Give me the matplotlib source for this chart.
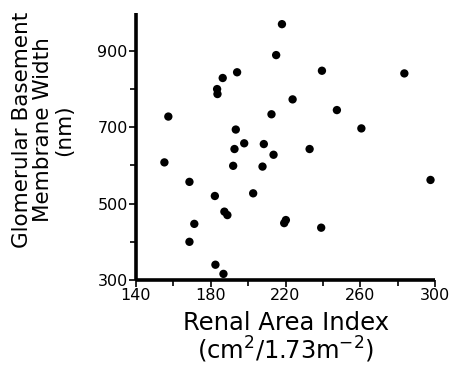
import matplotlib
matplotlib.use("Agg")
import matplotlib.pyplot as plt

# Data (Renal Area Index vs GBM width)
renal_area_index = [218.1, 215.0, 194.1, 186.4, 183.4, 183.6, 223.8, 157.3, 212.5, 193.4,
                    197.9, 208.4, 239.5, 283.6, 247.5, 260.6, 232.9, 155.2, 168.6, 192.7,
                    213.6, 192.0, 207.7, 182.2, 202.7, 187.3, 188.9, 220.2, 219.3, 171.2,
                    168.6, 182.5, 186.8, 297.6, 239.1]
gbm_width = [970, 889, 844, 829, 800, 787, 773, 728, 734, 694,
             658, 656, 848, 841, 745, 697, 643, 608, 557, 643,
             628, 599, 597, 520, 527, 479, 470, 457, 449, 447,
             400, 340, 316, 562, 437]

x_major = [140, 180, 220, 260, 300]
x_minor = [160, 200, 240, 280]
y_major = [300, 500, 700, 900]
y_minor = [400, 600, 800]

plt.rcParams['font.family'] = ['DejaVu Sans']
plt.rcParams['mathtext.fontset'] = 'dejavusans'

W, H = 457, 365
fig = plt.figure(figsize=(W / 100, H / 100), dpi=100)
ax = fig.add_axes([136 / W, 1 - 280 / H, (435 - 136) / W, (280 - 12.7) / H])

ax.scatter(renal_area_index, gbm_width, s=36, color='black', edgecolors='none', zorder=3,
           clip_on=False)

ax.set_xlim(140, 300)
ax.set_ylim(300, 1000)

for s in ['top', 'right']:
    ax.spines[s].set_visible(False)
for s in ['left', 'bottom']:
    ax.spines[s].set_linewidth(2.6)
    ax.spines[s].set_capstyle('butt')

ax.set_xticks(x_major)
ax.set_xticks(x_minor, minor=True)
ax.set_yticks(y_major)
ax.set_yticks(y_minor, minor=True)
ax.set_xticklabels([str(v) for v in x_major])
ax.set_yticklabels([str(v) for v in y_major])
ax.tick_params(axis='both', which='major', direction='out', length=5, width=1.2,
               labelsize=11.5, pad=1)
ax.tick_params(axis='both', which='minor', direction='out', length=4, width=1.2)

fig.text(286 / W, 1 - 338 / H, "Renal Area Index\n(cm$^{2}$/1.73m$^{-2}$)",
         ha='center', va='center', fontsize=17.5, linespacing=1.0,
         multialignment='center')
fig.text(43 / W, 1 - 130 / H, "Glomerular Basement\nMembrane Width\n(nm)",
         ha='center', va='center', rotation=90, fontsize=15.5, linespacing=1.05,
         multialignment='center')

fig.savefig("out.png", dpi=100)
